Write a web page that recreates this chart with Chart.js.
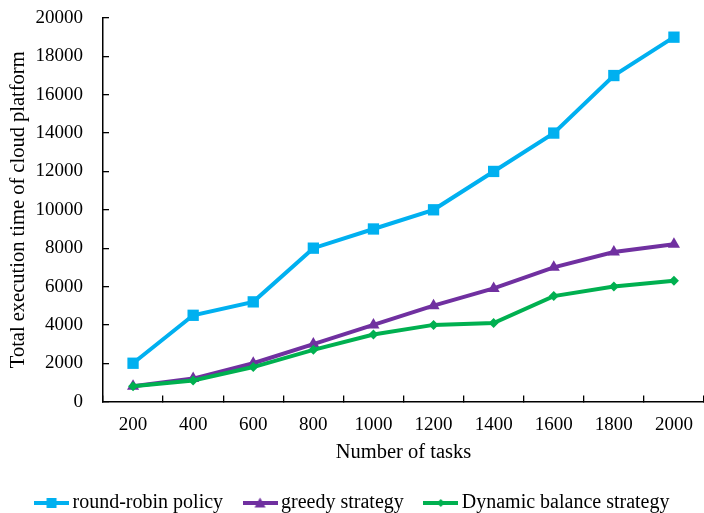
<!DOCTYPE html>
<html>
<head>
<meta charset="utf-8">
<script src="https://cdn.jsdelivr.net/npm/chart.js@4/dist/chart.umd.min.js"></script>
<style>
html,body{margin:0;padding:0;background:#fff;}
#wrap{width:704px;height:513px;}
</style>
</head>
<body>
<div id="wrap"><canvas id="c"></canvas></div>
<script>
const categories = ['200','400','600','800','1000','1200','1400','1600','1800','2000'];
const roundRobin = [2000, 4500, 5200, 8000, 9000, 10000, 12000, 14000, 17000, 19000];
const greedy = [800, 1200, 2000, 3000, 4000, 5000, 5900, 7000, 7800, 8200];
const dynamicBalance = [800, 1100, 1800, 2700, 3500, 4000, 4100, 5500, 6000, 6300];
const seriesNames = ['round-robin policy', 'greedy strategy', 'Dynamic balance strategy'];
const colors = ['#00B0F0', '#7030A0', '#00B050'];
const FONT = "'Liberation Serif', 'Times New Roman', serif";

function legendIcon(color, style) {
  const c = document.createElement('canvas');
  c.width = 35; c.height = 12;
  const g = c.getContext('2d');
  g.strokeStyle = color; g.lineWidth = 4;
  g.beginPath(); g.moveTo(0, 6); g.lineTo(35, 6); g.stroke();
  g.fillStyle = color;
  g.beginPath();
  if (style === 'rect') { g.rect(12.5, 1, 10, 10); }
  else if (style === 'triangle') { g.moveTo(17.5, 0.5); g.lineTo(23, 10.5); g.lineTo(12, 10.5); g.closePath(); }
  else { g.moveTo(17.5, 2); g.lineTo(21.5, 6); g.lineTo(17.5, 10); g.lineTo(13.5, 6); g.closePath(); }
  g.fill();
  return c;
}
const styles = ['rect', 'triangle', 'rectRot'];
const radii = [8, 7, 5];
const icons = styles.map((s, i) => legendIcon(colors[i], s));

const data = {
  labels: categories,
  datasets: [roundRobin, greedy, dynamicBalance].map((d, i) => ({
    label: seriesNames[i],
    data: d,
    order: 2 - i,
    borderColor: colors[i],
    backgroundColor: colors[i],
    borderWidth: 4,
    pointStyle: styles[i],
    pointRadius: radii[i],
    pointHoverRadius: radii[i],
    pointBorderWidth: 0,
    tension: 0,
    clip: false
  }))
};

new Chart(document.getElementById('c'), {
  type: 'line',
  data,
  options: {
    responsive: true,
    maintainAspectRatio: false,
    animation: false,
    layout: { autoPadding: false, padding: { top: 18, right: 0, left: 6, bottom: -10 } },
    plugins: {
      tooltip: { enabled: false },
      legend: {
        position: 'bottom',
        labels: {
          usePointStyle: true,
          pointStyleWidth: 22,
          boxHeight: 12,
          color: '#000',
          font: { family: FONT, size: 20 },
          padding: 26,
          generateLabels: (chart) => chart.data.datasets.map((ds, i) => ({
            text: ds.label,
            pointStyle: icons[i],
            fillStyle: ds.borderColor,
            strokeStyle: ds.borderColor,
            lineWidth: 0,
            hidden: false,
            datasetIndex: i,
            fontColor: '#000'
          }))
        }
      }
    },
    scales: {
      x: {
        offset: true,
        grid: { offset: true, drawOnChartArea: false, drawTicks: true, tickLength: -6, color: '#000', lineWidth: 1.3 },
        border: { color: '#000', width: 1.5 },
        ticks: { color: '#000', font: { family: FONT, size: 19 }, padding: 18, maxRotation: 0 },
        title: { display: true, text: 'Number of tasks', color: '#000', font: { family: FONT, size: 20.5 }, padding: { top: 0, bottom: 2 } },
        afterFit: (s) => { s.height = 65.4; s.paddingLeft = 0; s.paddingRight = 0; }
      },
      y: {
        min: 0, max: 20000,
        grid: { drawOnChartArea: false, drawTicks: true, tickLength: -6, color: '#000', lineWidth: 1.3 },
        border: { color: '#000', width: 1.5 },
        ticks: { stepSize: 2000, color: '#000', font: { family: FONT, size: 19 }, padding: 26, callback: v => String(v) },
        title: { display: true, text: 'Total execution time of cloud platform', color: '#000', font: { family: FONT, size: 20.5 }, padding: { top: 0, bottom: 0 } },
        afterFit: (s) => { s.width = 97; s.paddingTop = 0; s.paddingBottom = 0; }
      }
    }
  }
});
</script>
</body>
</html>
